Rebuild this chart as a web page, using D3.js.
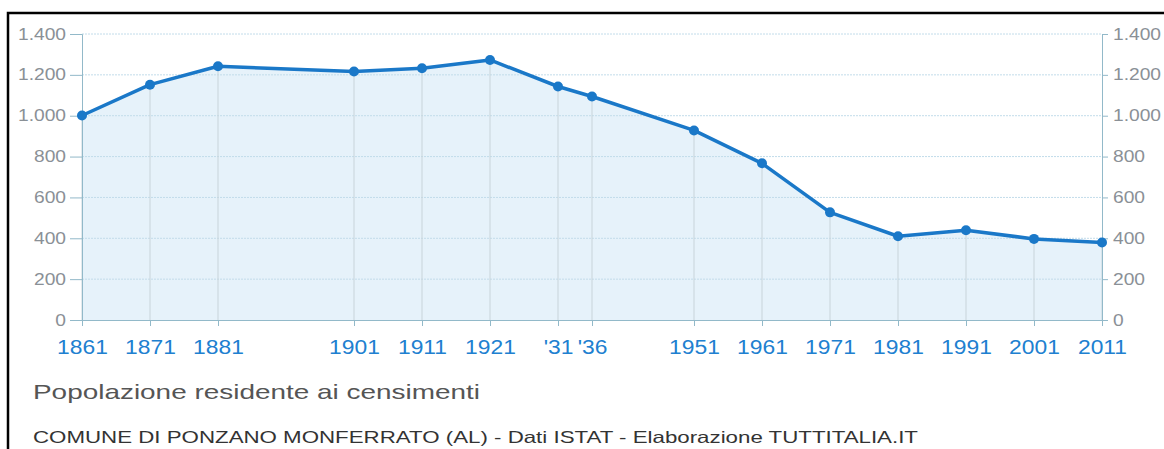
<!DOCTYPE html>
<html>
<head>
<meta charset="utf-8">
<script src="https://cdn.jsdelivr.net/npm/d3@7"></script>
<style>
  body { margin: 0; background: #fff; }
  svg { display: block; font-family: "Liberation Sans", Arial, sans-serif; }
</style>
</head>
<body>
<div class="chart"></div>
<script>
// census years, labels and residents
var years = [1861, 1871, 1881, 1901, 1911, 1921, 1931, 1936, 1951, 1961, 1971, 1981, 1991, 2001, 2011];
var yearLabels = ["1861", "1871", "1881", "1901", "1911", "1921", "'31", "'36", "1951", "1961", "1971", "1981", "1991", "2001", "2011"];
var residents = [1001, 1152, 1242, 1216, 1232, 1273, 1143, 1094, 928, 767, 527, 410, 439, 397, 379];
var yTicks = [0, 200, 400, 600, 800, 1000, 1200, 1400];

var W = 1164, H = 449;
var margin = {top: 34, right: 62, bottom: 129, left: 82},
    width = W - margin.left - margin.right,
    height = H - margin.top - margin.bottom;

var it = d3.formatLocale({decimal: ",", thousands: ".", grouping: [3], currency: ["€", ""]});
var fmt = it.format(",d");

var svg = d3.select(".chart").append("svg")
    .attr("width", W)
    .attr("height", H);

// frame
svg.append("path")
    .attr("d", "M8," + H + "V13H" + W)
    .attr("fill", "none")
    .attr("stroke", "#000")
    .attr("stroke-width", 2.5);

var g = svg.append("g")
    .attr("transform", "translate(" + margin.left + "," + margin.top + ")");

var x = d3.scaleLinear().domain([1861, 2011]).range([0, width]);
var y = d3.scaleLinear().domain([0, 1400]).range([height, 0]);

var data = years.map(function(d, i) { return {year: d, value: residents[i], label: yearLabels[i]}; });

// area
g.append("path")
    .datum(data)
    .attr("fill", "#e6f2fa")
    .attr("d", d3.area().x(function(d) { return x(d.year); }).y0(height).y1(function(d) { return y(d.value); }));

// horizontal grid
g.selectAll(".hgrid")
    .data(yTicks.slice(1))
    .enter().append("line")
    .attr("class", "hgrid")
    .attr("x1", 0).attr("x2", width)
    .attr("y1", function(d) { return y(d); })
    .attr("y2", function(d) { return y(d); })
    .attr("stroke", "#c2dcea")
    .attr("stroke-width", 1)
    .attr("stroke-dasharray", "2,1");

// vertical grid
g.selectAll(".vgrid")
    .data(data)
    .enter().append("line")
    .attr("class", "vgrid")
    .attr("x1", function(d) { return x(d.year); })
    .attr("x2", function(d) { return x(d.year); })
    .attr("y1", height).attr("y2", function(d) { return y(d.value); })
    .attr("stroke", "#c8d4da")
    .attr("stroke-width", 1);

// axes
var yLeft = d3.axisLeft(y).tickValues(yTicks).tickFormat(fmt).tickSize(12).tickPadding(4);
var yRight = d3.axisRight(y).tickValues(yTicks).tickFormat(fmt).tickSize(6).tickPadding(5);
var xAxis = d3.axisBottom(x).tickValues(years).tickFormat(function(d, i) { return yearLabels[i]; }).tickSize(6).tickPadding(14);

// the reference type is a bit wider than Liberation Sans, so stretch it
function styleAxis(sel, color, size, sx) {
  sel.select(".domain").attr("stroke", "#92b9c9");
  sel.selectAll(".tick line").attr("stroke", "#92b9c9");
  sel.selectAll(".tick text")
      .attr("fill", color)
      .style("font-size", size + "px")
      .attr("x", function() { return +d3.select(this).attr("x") / sx; })
      .attr("transform", "scale(" + sx + ",1)");
  sel.attr("font-family", null);
}

g.append("g").call(yLeft).call(styleAxis, "#8a9096", 16, 1.2);
g.append("g").attr("transform", "translate(" + width + ",0)").call(yRight).call(styleAxis, "#8a9096", 16, 1.2);
g.append("g").attr("transform", "translate(0," + height + ")").call(xAxis).call(styleAxis, "#2080d0", 19.5, 1.17);

// line and points
g.append("path")
    .datum(data)
    .attr("fill", "none")
    .attr("stroke", "#1a78c8")
    .attr("stroke-width", 3.5)
    .attr("stroke-linejoin", "round")
    .attr("d", d3.line().x(function(d) { return x(d.year); }).y(function(d) { return y(d.value); }));

g.selectAll(".point")
    .data(data)
    .enter().append("circle")
    .attr("class", "point")
    .attr("r", 5)
    .attr("cx", function(d) { return x(d.year); })
    .attr("cy", function(d) { return y(d.value); })
    .attr("fill", "#1a78c8");

svg.append("text")
    .attr("x", 33).attr("y", 399)
    .attr("fill", "#555")
    .style("font-size", "21px")
    .attr("textLength", 447)
    .attr("lengthAdjust", "spacingAndGlyphs")
    .text("Popolazione residente ai censimenti");

svg.append("text")
    .attr("x", 33).attr("y", 443)
    .attr("fill", "#333")
    .style("font-size", "16.5px")
    .attr("textLength", 885)
    .attr("lengthAdjust", "spacingAndGlyphs")
    .text("COMUNE DI PONZANO MONFERRATO (AL) - Dati ISTAT - Elaborazione TUTTITALIA.IT");
</script>
</body>
</html>
